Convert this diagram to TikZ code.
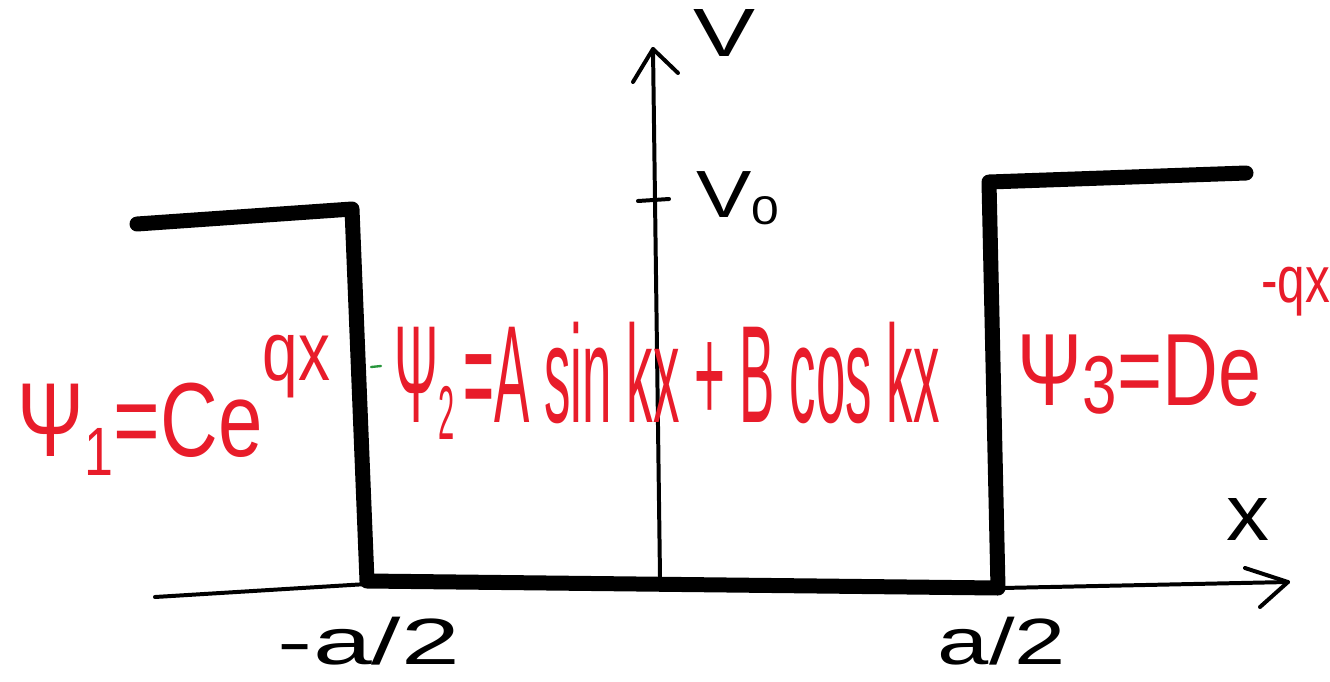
\documentclass[tikz,border=0pt]{standalone}
\usepackage{fontspec}
\setmainfont{Liberation Sans}
\usepackage{graphicx}
\definecolor{wavered}{RGB}{232,28,42}
\definecolor{markgreen}{RGB}{40,150,60}
\newlength\pxu
\setlength\pxu{0.015cm}
\newcommand\hup[3]{\raisebox{#1em}{\scalebox{#2}{#3}}}
\newcommand\fitlab[3]{\resizebox*{#1\pxu}{#2\pxu}{#3}}

\begin{document}
\begin{tikzpicture}[x=0.015cm,y=-0.015cm,line cap=round,line join=round,
    axis/.style={line width=1.7pt},
    well/.style={line width=6.4pt},
    lab/.style={inner sep=0pt},
    wave/.style={inner sep=0pt,text=wavered}]
        \useasboundingbox (0,0) rectangle (1330,681);

        % Ejes
        \coordinate (xl) at (155,597);
        \coordinate (xtip) at (1288,582);
        \coordinate (yb) at (660,577);
        \coordinate (ytip) at (653,49);
        \draw[axis] (xl) -- (367,584) -- (1002,588) -- (xtip);
        \draw[axis] (1245,568) -- (xtip) -- (1260,607);
        \draw[axis] (yb) -- (ytip);
        \draw[axis] (633,82) -- (ytip) -- (678,73);
        \draw[axis] (638,201) -- (669,199);

        % Pozo de potencial
        \draw[well] (137,224) -- (352,209) -- (367,581)
            -- (998,588) -- (989,182) -- (1246,173);
        \draw[markgreen,line width=1pt] (371,367) -- (381,366);

        % Rotulos
        \node[lab] (vlab) at (724,33) {\fitlab{62}{47}{V}};
        \node[lab] (vzero) at (738,198) {\fitlab{83}{53}{V\hup{-0.1}{0.6}{0}}};
        \node[lab] (xlab) at (1248,519) {\fitlab{43}{42}{x}};
        \node[lab] (aleft) at (369,641) {\fitlab{182}{48}{-a/2}};
        \node[lab] (aright) at (1002,641) {\fitlab{128}{48}{a/2}};

        % Funciones de onda
        \node[wave] (psi1) at (174,405)
            {\fitlab{312}{140}{Ψ\hup{-0.18}{0.65}{1}=Ce\hup{0.72}{0.8}{qx}}};
        \node[wave] (psi2) at (667,381)
            {\fitlab{545}{117}{Ψ\hup{-0.12}{0.55}{2}\,=A sin kx + B cos kx}};
        \node[wave] (psi3) at (1174,341)
            {\fitlab{312}{147}{Ψ\hup{-0.08}{0.8}{3}=De\hup{1.0}{0.64}{-qx}}};
    \end{tikzpicture}
\end{document}
